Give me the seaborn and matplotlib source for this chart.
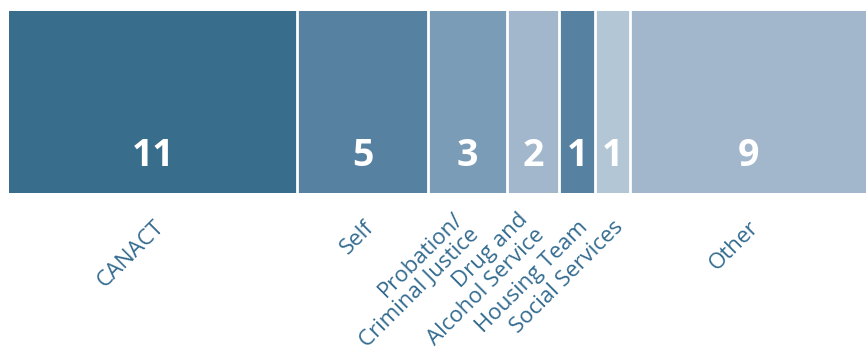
import numpy as np
import matplotlib
matplotlib.use("Agg")
import matplotlib.pyplot as plt
import matplotlib.transforms as mtransforms
import seaborn as sns

# Referral sources and number of referrals from each
categories = ["CANACT", "Self", "Probation/\nCriminal Justice", "Drug and\nAlcohol Service",
              "Housing Team", "Social Services", "Other"]
counts = [11, 5, 3, 2, 1, 1, 9]
colors = ["#386d8c", "#5781a1", "#7a9cb6", "#a2b7cc", "#5781a1", "#b3c6d6", "#a2b7cc"]

sns.set_theme(style="white")
plt.rcParams["font.family"] = ["Open Sans", "DejaVu Sans"]

fig = plt.figure(figsize=(8.66, 3.56), dpi=100)
ax = fig.add_axes([9 / 866, 1 - 193 / 356, 857 / 866, 182 / 356])

# segment widths follow the counts, with a small floor so single referrals stay legible
min_width = 1.35
widths = np.maximum(np.array(counts, dtype=float), min_width)
edges = np.cumsum(widths)
lefts = np.concatenate([[0], edges[:-1]])

ax.bar(lefts, [1] * len(counts), width=widths, align="edge", color=colors,
       edgecolor="none", linewidth=0)

# white separators between segments
for b in edges[:-1]:
    ax.axvline(b, color="white", lw=2.0)

ax.set_xlim(0, edges[-1])
ax.set_ylim(0, 1)
ax.set_xticks([])
ax.set_yticks([])
sns.despine(ax=ax, left=True, bottom=True)

trans = mtransforms.blended_transform_factory(ax.transData, ax.transAxes)
label_color = "#336b8f"
for left, w, n, name in zip(lefts, widths, counts, categories):
    cx = left + w / 2
    ax.text(cx, 0.205, str(n), transform=trans, ha="center", va="center",
            color="white", fontsize=27, fontweight="bold")
    two_line = "\n" in name
    shift = 0 if two_line else 0.3
    ax.text(cx + shift, -0.17, name, transform=trans, ha="right", va="center",
            rotation=45, rotation_mode="anchor", multialignment="right",
            color=label_color, fontsize=16, linespacing=1.1, clip_on=False)

fig.savefig("out.png", dpi=100)
